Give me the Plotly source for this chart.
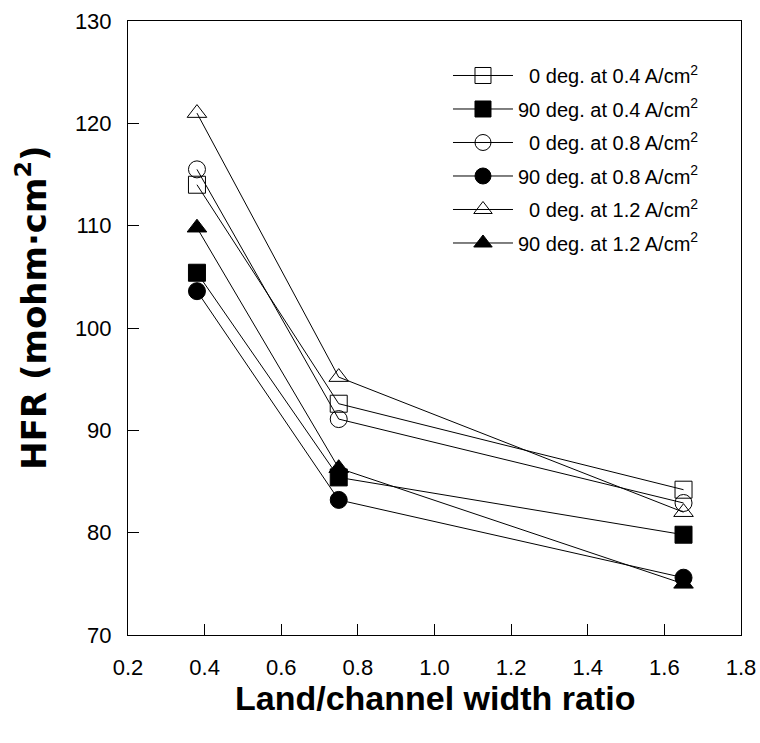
import plotly.graph_objects as go

ratio = [0.38, 0.75, 1.65]

series_names = [
    "\u20070 deg. at 0.4 A/cm<sup>2</sup>",
    "90 deg. at 0.4 A/cm<sup>2</sup>",
    "\u20070 deg. at 0.8 A/cm<sup>2</sup>",
    "90 deg. at 0.8 A/cm<sup>2</sup>",
    "\u20070 deg. at 1.2 A/cm<sup>2</sup>",
    "90 deg. at 1.2 A/cm<sup>2</sup>",
]
deg0_04 = [114.0, 92.6, 84.2]
deg90_04 = [105.4, 85.4, 79.8]
deg0_08 = [115.5, 91.1, 82.9]
deg90_08 = [103.6, 83.2, 75.6]
deg0_12 = [121.0, 95.2, 82.0]
deg90_12 = [109.8, 86.3, 75.0]

series_values = [deg0_04, deg90_04, deg0_08, deg90_08, deg0_12, deg90_12]
symbols = ["square-open", "square", "circle-open", "circle", "triangle-up-open", "triangle-up"]

x_ticks = [0.2, 0.4, 0.6, 0.8, 1.0, 1.2, 1.4, 1.6, 1.8]
y_ticks = [70, 80, 90, 100, 110, 120, 130]

x_title = "<b>Land/channel width ratio</b>"
y_title = "<b>HFR (mohm·cm<sup>2</sup>)</b>"

FONT = "Arial, Liberation Sans, sans-serif"
WIDE_FONT = "DejaVu Sans, Arial, sans-serif"

fig = go.Figure()
for i, (name, vals, sym) in enumerate(zip(series_names, series_values, symbols)):
    fig.add_trace(go.Scatter(
        x=ratio, y=vals, name=name, mode="lines+markers",
        legendgroup=f"g{i}",
        line=dict(color="black", width=1),
        marker=dict(symbol=sym, size=17, color="black",
                    line=dict(color="black", width=1)),
    ))

axis_common = dict(
    showline=True, linecolor="black", linewidth=1, mirror=True,
    ticks="inside", ticklen=11, tickcolor="black", tickwidth=1,
    showgrid=False, zeroline=False, automargin=False,
    tickfont=dict(family=FONT, size=22, color="black"),
)

fig.update_xaxes(range=[0.2, 1.8], tickvals=x_ticks,
                 ticktext=[f"{v:.1f}" for v in x_ticks],
                 ticklabelstandoff=13,
                 **axis_common)
fig.update_yaxes(range=[70, 130], tickvals=y_ticks,
                 ticklabelstandoff=11,
                 **axis_common)

fig.add_annotation(text=x_title, xref="paper", yref="paper",
                   x=0.5, y=-0.1026, xanchor="center", yanchor="middle",
                   showarrow=False,
                   font=dict(family=FONT, size=34, color="black"))
fig.add_annotation(text=y_title, xref="paper", yref="paper",
                   x=0, y=0.533, xanchor="center", yanchor="middle",
                   xshift=-97, textangle=-90, showarrow=False,
                   font=dict(family=WIDE_FONT, size=34, color="black"))

fig.update_layout(
    width=760, height=743,
    margin=dict(l=128, r=19, t=21, b=108),
    paper_bgcolor="white", plot_bgcolor="white",
    font=dict(family=FONT, color="black"),
    showlegend=True,
    legend=dict(x=0.522, y=0.943, xanchor="left", yanchor="top",
                bgcolor="rgba(0,0,0,0)", borderwidth=0,
                font=dict(family=FONT, size=20, color="black"),
                itemwidth=60, tracegroupgap=4.5),
)

fig.write_html("out.html")
